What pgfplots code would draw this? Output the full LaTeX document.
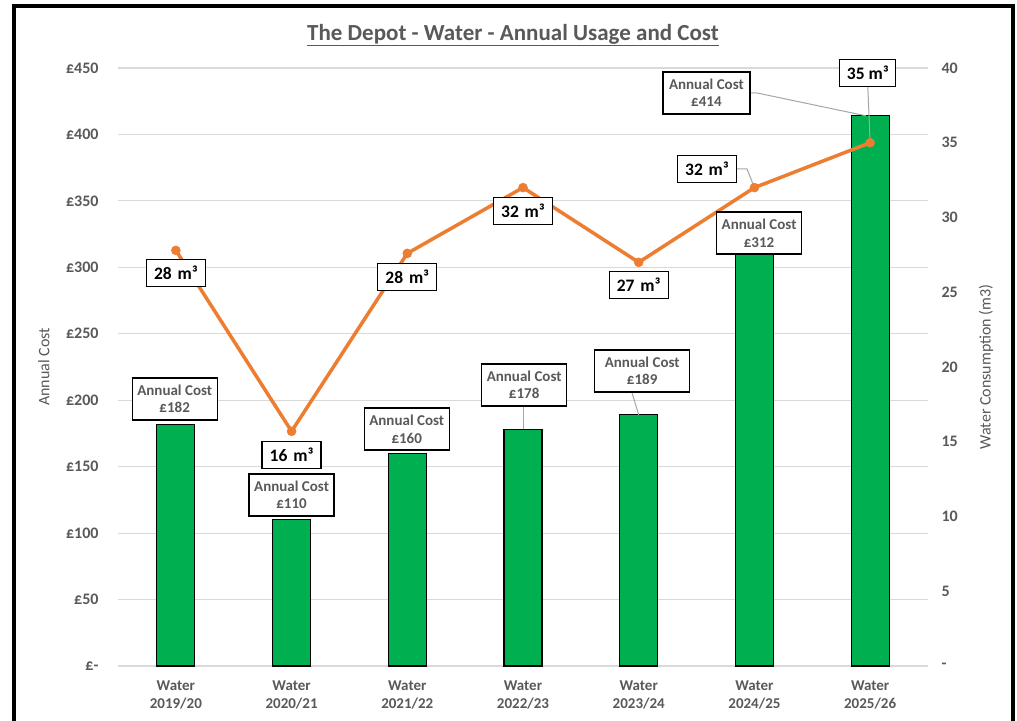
\documentclass[border=0pt]{standalone}
\usepackage{fontspec}
\setmainfont{Carlito}
\usepackage{pgfplots}
\pgfplotsset{compat=1.18}
\definecolor{txtgrey}{HTML}{595959}
\definecolor{bargreen}{HTML}{00B050}
\definecolor{lineorange}{HTML}{ED7D31}
\definecolor{gridgrey}{HTML}{D9D9D9}
\definecolor{leadgrey}{HTML}{A6A6A6}
\begin{document}
\begin{tikzpicture}
\useasboundingbox (0pt,0pt) rectangle (1017pt,720pt);
\fill[white] (0pt,0pt) rectangle (1017pt,720pt);
\draw[line width=4pt] (14pt,-2pt) -- (14pt,714pt) -- (1013pt,714pt) -- (1013pt,-2pt);
\node[font=\bfseries\fontsize{23}{27}\selectfont, text=txtgrey] at (513pt,685pt) {\underline{The Depot - Water - Annual Usage and Cost}};

\begin{axis}[
  at={(118pt,54pt)}, anchor=south west, scale only axis,
  width=810pt, height=598pt,
  xmin=-0.5, xmax=6.5, ymin=0, ymax=450,
  axis line style={draw=none}, major tick length=0pt,
  ymajorgrids, grid style={gridgrey, line width=1.2pt},
  xtick={0,...,6},
  xticklabels={{Water\\2019/20},{Water\\2020/21},{Water\\2021/22},{Water\\2022/23},{Water\\2023/24},{Water\\2024/25},{Water\\2025/26}},
  xticklabel style={align=center, font=\bfseries\fontsize{15}{18}\selectfont, text=txtgrey, yshift=-11pt},
  ytick={0,50,...,450},
  yticklabels={£-,£50,£100,£150,£200,£250,£300,£350,£400,£450},
  yticklabel style={font=\bfseries\fontsize{16}{19}\selectfont, text=txtgrey, xshift=-16pt},
  ylabel={Annual Cost},
  ylabel style={font=\fontsize{16}{19}\selectfont, text=txtgrey, at={(rel axis cs:-0.0914,0.5)}, anchor=center},
  clip=false,
]
\addplot[ybar, bar width=38pt, fill=bargreen, draw=black, line width=1.2pt] coordinates {
  (0,182) (1,110) (2,160) (3,178) (4,189) (5,312) (6,414)
};
% leader lines
\draw[leadgrey, line width=1pt] (axis cs:3.0,195.7) -- (axis cs:3.0,178);
\draw[leadgrey, line width=1pt] (axis cs:3.94,206.2) -- (axis cs:4.0,189);
\draw[leadgrey, line width=1pt] (axis cs:4.962,431.2) -- (axis cs:5.022,431.2) -- (axis cs:5.964,414);
\draw[leadgrey, line width=1pt] (axis cs:5.98,435.7) -- (axis cs:6.0,393.75);
\draw[leadgrey, line width=1pt] (axis cs:4.85,374) -- (axis cs:4.936,374) -- (axis cs:5.0,360);
\end{axis}

\begin{axis}[
  at={(118pt,54pt)}, anchor=south west, scale only axis,
  width=810pt, height=598pt,
  xmin=-0.5, xmax=6.5, ymin=0, ymax=40,
  axis y line*=right, axis x line=none,
  axis line style={draw=none}, major tick length=0pt,
  ytick={0,5,...,40},
  yticklabels={-,5,10,15,20,25,30,35,40},
  yticklabel style={font=\bfseries\fontsize{16}{19}\selectfont, text=txtgrey, xshift=10pt},
  ylabel={Water Consumption (m3)},
  ylabel style={font=\fontsize{16}{19}\selectfont, text=txtgrey, at={(rel axis cs:1.0716,0.5)}, anchor=center},
  clip=false,
]
\addplot[lineorange, line width=3.5pt, mark=*, mark size=4.5pt, mark options={solid, fill=lineorange, draw=lineorange, line width=0.5pt}] coordinates {
  (0,27.8) (1,15.7) (2,27.6) (3,32.0) (4,27.0) (5,32.0) (6,35.0)
};
\end{axis}

% data labels, placed in the cost axis coordinates
\begin{axis}[
  at={(118pt,54pt)}, anchor=south west, scale only axis,
  width=810pt, height=598pt,
  xmin=-0.5, xmax=6.5, ymin=0, ymax=450,
  hide axis, clip=false,
]
\tikzset{mlab/.style={draw=black, fill=white, line width=1.2pt, align=center, font=\bfseries\fontsize{17.5}{20}\selectfont, minimum width=59pt, minimum height=27pt, inner sep=1pt},
         clab/.style={draw=black, fill=white, line width=1.2pt, align=center, font=\bfseries\fontsize{15}{17.5}\selectfont, text=txtgrey, minimum width=85pt, minimum height=42pt, inner sep=1pt}}
\node[mlab] at (axis cs:0,295.7) {28\,\,m³};
\node[mlab] at (axis cs:1,158.8) {16\,\,m³};
\node[mlab] at (axis cs:2,292.7) {28\,\,m³};
\node[mlab] at (axis cs:3,342.4) {32\,\,m³};
\node[mlab] at (axis cs:4,286.7) {27\,\,m³};
\node[mlab] at (axis cs:4.59,374.0) {32\,\,m³};
\node[mlab, minimum width=56pt] at (axis cs:5.98,446.2) {35 m³};
\node[clab] at (axis cs:-0.01,200.9) {Annual Cost\\£182};
\node[clab] at (axis cs:1.0,128.7) {Annual Cost\\£110};
\node[clab] at (axis cs:1.995,178.3) {Annual Cost\\£160};
\node[clab] at (axis cs:3.01,211.5) {Annual Cost\\£178};
\node[clab, minimum width=95pt] at (axis cs:4.03,222.0) {Annual Cost\\£189};
\node[clab] at (axis cs:5.04,325.8) {Annual Cost\\£312};
\node[clab, minimum width=87pt] at (axis cs:4.585,431.2) {Annual Cost\\£414};
\end{axis}
\end{tikzpicture}
\end{document}
